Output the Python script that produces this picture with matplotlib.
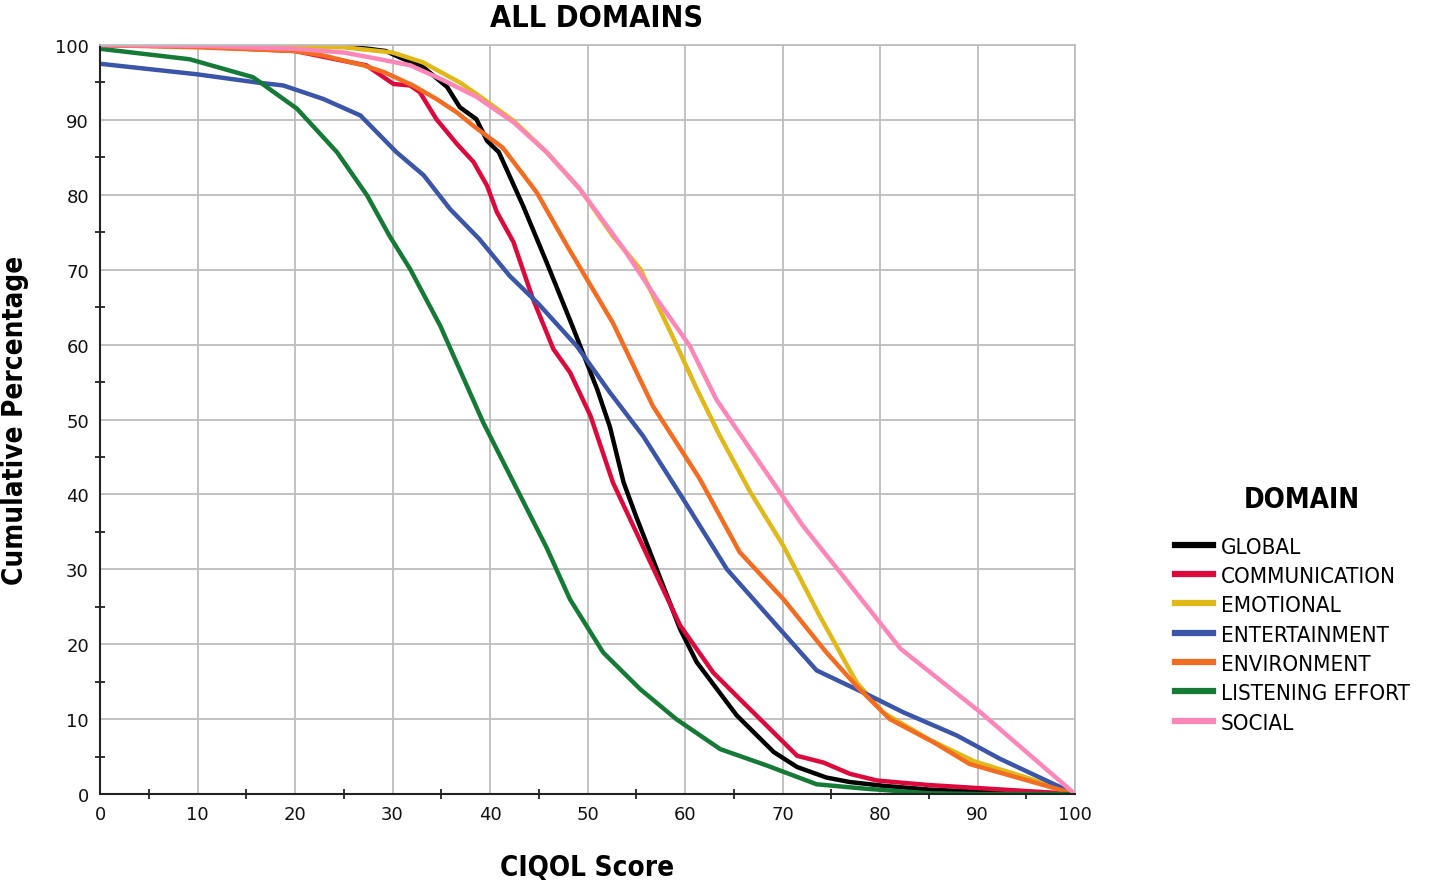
import matplotlib
matplotlib.use('Agg')
import matplotlib.pyplot as plt
from matplotlib.ticker import MultipleLocator

# score (x) and cumulative percentage (y) per domain
global_x = [0, 10, 20, 25, 27.5, 29.3, 31, 33.1, 35.6, 36.9, 38.6, 39.7, 40.9, 41.7, 43.4, 45.8, 48.5, 51, 52.3, 53.7, 55, 59.5, 61.2, 65.3, 69.1, 71.5, 74.5, 76.9, 80.3, 85, 90, 100]
global_y = [100, 100, 100, 99.8, 99.5, 99.2, 98.2, 97.1, 94.4, 91.7, 90.1, 87.2, 85.7, 83.4, 78.5, 71, 62.3, 54, 49, 41.6, 37, 22, 17.6, 10.5, 5.6, 3.6, 2.2, 1.6, 1.1, 0.6, 0.3, 0]

comm_x = [0, 10, 20, 25.3, 27.3, 30.1, 31.8, 32.8, 34.5, 36.6, 38.3, 39.7, 40.7, 42.4, 44.4, 46.5, 48.2, 50.3, 52.6, 55.7, 59.5, 62.9, 65.6, 68.4, 71.5, 74.2, 76.9, 79.7, 85, 90, 95, 100]
comm_y = [100, 99.8, 99.2, 97.8, 97.3, 94.8, 94.6, 93.7, 90.1, 86.8, 84.4, 81.2, 77.7, 73.7, 66.1, 59.4, 56.3, 50.5, 41.6, 33, 22.5, 16.2, 12.7, 9.1, 5.1, 4.2, 2.7, 1.8, 1.2, 0.8, 0.4, 0]

emo_x = [0, 10, 20, 25, 30, 33.1, 36.9, 38.9, 42.4, 45.8, 49.2, 52.6, 55.4, 58.5, 61.2, 63.5, 66.7, 70.1, 73.8, 77.6, 80.3, 85, 89.6, 95, 100]
emo_y = [100, 100, 99.9, 99.7, 99, 97.7, 95, 93.2, 89.9, 85.7, 80.8, 74.5, 70.1, 61.7, 54.1, 48, 40.3, 33.1, 23.8, 14.9, 10.9, 7.3, 4.4, 2.2, 0]

ent_x = [0, 9.9, 16.1, 18.8, 22.9, 26.7, 30.4, 33.2, 35.9, 38.9, 42, 45, 48.9, 52.3, 55.7, 59.8, 64.3, 69.4, 73.5, 79, 82.4, 87.9, 92.3, 100]
ent_y = [97.5, 96.1, 95, 94.6, 92.8, 90.6, 85.7, 82.6, 78.1, 74.1, 69.2, 65.4, 59.8, 53.6, 47.8, 39.4, 30, 22.5, 16.5, 13.1, 10.9, 7.8, 4.7, 0]

env_x = [0, 10, 20, 22.9, 27, 29.1, 32.1, 34.5, 36.6, 38.3, 41.3, 44.8, 47.9, 52.6, 56.7, 61.5, 65.6, 70.1, 74.5, 77.6, 81, 85.5, 89.2, 100]
env_y = [100, 99.7, 99.2, 98.6, 97.3, 96.4, 94.6, 92.8, 91, 89.2, 86.3, 80.3, 73.2, 62.9, 51.8, 42.1, 32.3, 26, 18.9, 14.4, 10, 6.9, 4, 0]

listen_x = [0, 9.2, 15.7, 20.2, 24.3, 27.4, 29.7, 31.8, 34.9, 39.3, 45.8, 48.2, 51.6, 55.4, 59.1, 63.6, 68.4, 73.5, 78.6, 85, 90, 100]
listen_y = [99.5, 98.1, 95.7, 91.5, 85.7, 79.9, 74.5, 70.1, 62.5, 49.6, 32.9, 26, 18.9, 14, 10, 6, 3.8, 1.3, 0.7, 0.1, 0, 0]

social_x = [0, 10, 20, 25, 28.7, 31.8, 34.9, 38.6, 42.4, 45.8, 49.2, 53.7, 57.1, 60.5, 63.2, 67.4, 72.1, 75.9, 82.1, 90.3, 100]
social_y = [100, 99.9, 99.5, 99, 98.1, 97.3, 95.5, 93.1, 89.7, 85.7, 80.8, 72.8, 66.1, 59.8, 52.7, 44.7, 35.8, 29.6, 19.4, 10.9, 0]

domains = ['GLOBAL', 'COMMUNICATION', 'EMOTIONAL', 'ENTERTAINMENT', 'ENVIRONMENT', 'LISTENING EFFORT', 'SOCIAL']
colors = ['#000000', '#dc0a3c', '#e1b81a', '#3b55a8', '#f26d21', '#157a35', '#fd86b8']
series = [(global_x, global_y), (comm_x, comm_y), (emo_x, emo_y), (ent_x, ent_y),
          (env_x, env_y), (listen_x, listen_y), (social_x, social_y)]

fig = plt.figure(figsize=(14.33, 8.87), dpi=100)
ax = fig.add_axes([0.0698, 0.1037, 0.6804, 0.8444])

for name, col, (xs, ys) in zip(domains, colors, series):
    ax.plot(xs, ys, color=col, lw=3.2, label=name, solid_joinstyle='round')

ax.set_xlim(0, 100)
ax.set_ylim(0, 100)
ax.xaxis.set_major_locator(MultipleLocator(10))
ax.yaxis.set_major_locator(MultipleLocator(10))
ax.xaxis.set_minor_locator(MultipleLocator(5))
ax.yaxis.set_minor_locator(MultipleLocator(5))
ax.grid(True, which='major', color='#bdbdbd', lw=1.3)
ax.set_axisbelow(True)
ax.tick_params(which='both', direction='inout', length=7, width=1.2, labelsize=13, colors='#111111')
ax.tick_params(which='major', length=0, pad=8)

for s in ['top', 'right']:
    ax.spines[s].set_color('#bdbdbd')
    ax.spines[s].set_linewidth(1.3)
for s in ['left', 'bottom']:
    ax.spines[s].set_color('#222222')
    ax.spines[s].set_linewidth(1.5)

# titles, condensed bold like the original
cond = dict(fontweight='bold', fontstretch='condensed', family='DejaVu Sans')
fig.text(0.4166, 0.979, 'ALL DOMAINS', ha='center', va='center', fontsize=22, **cond)
fig.text(0.4096, 0.021, 'CIQOL Score', ha='center', va='center', fontsize=20, **cond)
fig.text(0.0105, 0.526, 'Cumulative Percentage', ha='center', va='center', rotation=90, fontsize=20, **cond)

# legend, title drawn on its own so the gap matches
fig.text(0.9086, 0.436, 'DOMAIN', ha='center', va='center', fontsize=20, **cond)
leg = fig.legend(loc='upper left', bbox_to_anchor=(0.814, 0.404), frameon=False, fontsize=16,
                 handlelength=1.7, handletextpad=0.35, labelspacing=0.42, borderaxespad=0)
for line in leg.get_lines():
    line.set_linewidth(4.5)
for t in leg.get_texts():
    t.set_fontstretch('condensed')

fig.savefig('out.png', dpi=100)
